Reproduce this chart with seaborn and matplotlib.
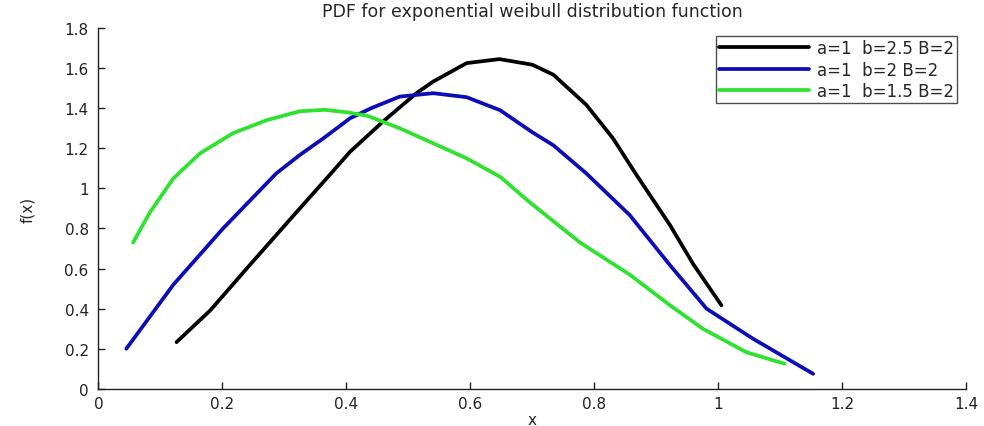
import matplotlib
matplotlib.use("Agg")
import matplotlib.pyplot as plt
import seaborn as sns
import pandas as pd

# Series
x_b25 = [0.126, 0.18, 0.244, 0.32, 0.373, 0.406, 0.459, 0.513, 0.54, 0.594, 0.647, 0.70, 0.734,
         0.787, 0.83, 0.868, 0.922, 0.96, 1.005]
y_b25 = [0.233, 0.39, 0.617, 0.883, 1.067, 1.183, 1.333, 1.475, 1.533, 1.625, 1.645, 1.617, 1.567,
         1.417, 1.25, 1.067, 0.817, 0.62, 0.417]

x_b2 = [0.045, 0.121, 0.201, 0.287, 0.325, 0.363, 0.406, 0.44, 0.486, 0.54, 0.594, 0.648, 0.70,
        0.734, 0.787, 0.857, 0.922, 0.981, 1.056, 1.153]
y_b2 = [0.20, 0.52, 0.80, 1.075, 1.167, 1.25, 1.35, 1.40, 1.458, 1.475, 1.455, 1.39, 1.28,
        1.215, 1.075, 0.867, 0.617, 0.40, 0.25, 0.075]

x_b15 = [0.056, 0.083, 0.121, 0.164, 0.217, 0.271, 0.325, 0.365, 0.40, 0.433, 0.486, 0.54, 0.594,
         0.648, 0.696, 0.777, 0.857, 0.922, 0.975, 1.045, 1.107]
y_b15 = [0.73, 0.88, 1.05, 1.175, 1.275, 1.34, 1.385, 1.392, 1.38, 1.363, 1.30, 1.225, 1.15,
         1.058, 0.93, 0.73, 0.57, 0.417, 0.30, 0.183, 0.125]

labels = ["a=1  b=2.5 B=2", "a=1  b=2 B=2", "a=1  b=1.5 B=2"]
colors = ["#000000", "#0d0db8", "#2fe22f"]

x_ticks = [0, 0.2, 0.4, 0.6, 0.8, 1, 1.2, 1.4]
x_tick_labels = ["0", "0.2", "0.4", "0.6", "0.8", "1", "1.2", "1.4"]
y_ticks = [0, 0.2, 0.4, 0.6, 0.8, 1, 1.2, 1.4, 1.6, 1.8]
y_tick_labels = ["0", "0.2", "0.4", "0.6", "0.8", "1", "1.2", "1.4", "1.6", "1.8"]

sns.set_style("white")
plt.rcParams['font.family'] = ['DejaVu Sans']

fig = plt.figure(figsize=(9.84, 4.27), dpi=100)
ax = fig.add_axes([0.100, 0.087, 0.882, 0.845])

series = [(x_b25, y_b25), (x_b2, y_b2), (x_b15, y_b15)]
for (xs, ys), lab, col in zip(series, labels, colors):
    df = pd.DataFrame({"x": xs, "y": ys})
    sns.lineplot(data=df, x="x", y="y", ax=ax, sort=False, color=col,
                 linewidth=2.7, label=lab, estimator=None)

ax.set_xlim(0, 1.4)
ax.set_ylim(0, 1.8)
ax.set_xticks(x_ticks)
ax.set_xticklabels(x_tick_labels)
ax.set_yticks(y_ticks)
ax.set_yticklabels(y_tick_labels)
ax.tick_params(axis='both', direction='in', length=5, width=1, labelsize=11,
               colors='#222222', bottom=True, left=True)
ax.tick_params(axis='y', pad=7)
ax.tick_params(axis='x', pad=5)
for s in ["top", "right"]:
    ax.spines[s].set_visible(False)
for s in ["left", "bottom"]:
    ax.spines[s].set_color('#222222')
    ax.spines[s].set_linewidth(1)

ax.set_xlabel("x", fontsize=11, labelpad=1)
ax.set_ylabel("f(x)", fontsize=11, labelpad=21)
ax.set_title("PDF for exponential weibull distribution function", fontsize=12.5, pad=9)

leg = ax.legend(loc="upper right", bbox_to_anchor=(0.9895, 0.978), fontsize=12,
                frameon=True, fancybox=False, handlelength=5.4, handletextpad=0.45,
                borderpad=0.2, labelspacing=0.2, borderaxespad=0.0)
leg.get_frame().set_edgecolor('#222222')
leg.get_frame().set_linewidth(1)

fig.savefig("out.png", dpi=100)
